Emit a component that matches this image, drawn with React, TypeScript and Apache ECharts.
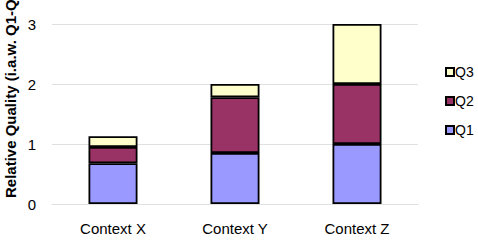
import React, { useEffect, useRef } from "react";
import * as echarts from "echarts";

const categories = ["Context X", "Context Y", "Context Z"];
const q1 = [0.68, 0.85, 1.0];
const q2 = [0.27, 0.93, 1.0];
const q3 = [0.18, 0.22, 1.0];
const yTicks = [0, 1, 2, 3];
const yTitle = "Relative Quality (i.a.w. Q1-Q3)";

export default function App() {
  const ref = useRef<HTMLDivElement>(null);
  useEffect(() => {
    const chart = echarts.init(ref.current!, undefined, { renderer: "svg" });
    const font = "Liberation Sans, Arial, sans-serif";
    const mk = (name: string, data: number[], color: string) => ({
      name,
      type: "bar",
      stack: "total",
      data,
      barWidth: 49,
      itemStyle: { color, borderColor: "#000", borderWidth: 1.8 },
    });
    chart.setOption({
      animation: false,
      grid: { left: 52, right: 60, top: 24, bottom: 36 },
      xAxis: {
        type: "category",
        data: categories,
        axisLine: { show: true, lineStyle: { color: "#e0e0e0" } },
        axisTick: { show: false },
        axisLabel: { color: "#000", fontSize: 15, fontFamily: font, margin: 17 },
      },
      yAxis: {
        type: "value",
        min: yTicks[0],
        max: yTicks[yTicks.length - 1],
        interval: 1,
        axisLine: { show: false },
        axisTick: { show: false },
        splitLine: { lineStyle: { color: "#e0e0e0" } },
        axisLabel: { color: "#000", fontSize: 15, fontFamily: font, margin: 16 },
      },
      legend: {
        orient: "vertical",
        left: 440,
        top: 60,
        itemWidth: 8,
        itemHeight: 8,
        itemGap: 15,
        icon: "rect",
        data: ["Q3", "Q2", "Q1"],
        textStyle: { color: "#000", fontSize: 14, fontFamily: font, padding: [0, 0, 0, -4] },
      },
      graphic: [
        {
          type: "text",
          x: 10,
          y: 198,
          rotation: Math.PI / 2,
          style: {
            text: yTitle,
            fill: "#000",
            font: `bold 15px ${font}`,
            textAlign: "left",
            textVerticalAlign: "middle",
          },
        },
      ],
      series: [
        mk("Q1", q1, "#9999FF"),
        mk("Q2", q2, "#993366"),
        mk("Q3", q3, "#FFFFCC"),
      ],
    });
    return () => chart.dispose();
  }, []);
  return <div ref={ref} style={{ width: 478, height: 240, position: "absolute", left: 0, top: 0 }} />;
}
